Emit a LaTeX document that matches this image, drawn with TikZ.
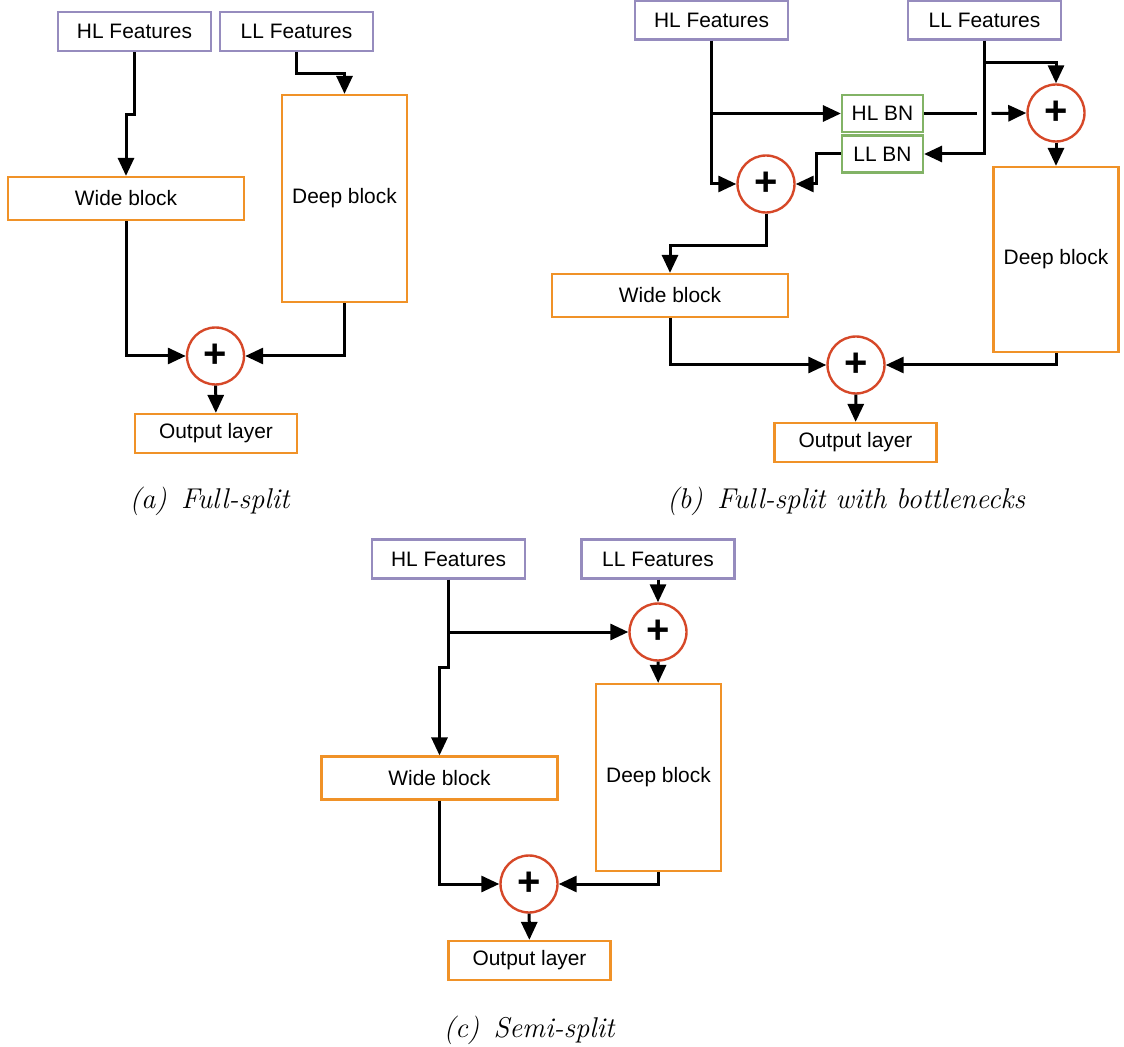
\documentclass[tikz,border=0pt]{standalone}
\usepackage{fontspec}
\newfontfamily\boxfont{Liberation Sans}
\usetikzlibrary{arrows.meta, calc}

\definecolor{featcolor}{RGB}{150,140,190}
\definecolor{blockcolor}{RGB}{240,146,40}
\definecolor{bncolor}{RGB}{130,179,102}
\definecolor{sumcolor}{RGB}{214,72,40}

\begin{document}
\begin{tikzpicture}[
        x = 0.5pt, y = -0.5pt,
        line width = 1.5pt,
        arr/.style = {-{Triangle[width=8pt,length=9pt]}},
        box/.style = {
            draw,
            rectangle,
            inner sep = 0pt,
            line width = 1.1pt,
            fill = white,
            align = center,
            font = \boxfont\fontsize{10.45}{12}\selectfont
        },
        feat/.style = {box, draw = featcolor, minimum width = 76.5pt, minimum height = 19.5pt},
        block/.style = {box, draw = blockcolor},
        widebox/.style = {block, minimum width = 118pt, minimum height = 21.5pt},
        deepbox/.style = {block, minimum width = 62.5pt},
        outbox/.style = {block, minimum width = 81pt, minimum height = 19.5pt},
        bn/.style = {box, draw = bncolor, minimum width = 40.5pt, minimum height = 18.5pt},
        sum/.style = {
            draw = sumcolor,
            circle,
            line width = 1.2pt,
            inner sep = 0pt,
            minimum size = 28.5pt,
            fill = white,
            font = \boxfont\bfseries\fontsize{20}{20}\selectfont
        },
        caption/.style = {anchor = base, font = \fontsize{14.3}{17}\selectfont\itshape}
    ]

        \useasboundingbox (0,0) rectangle (1124,1047);

        \node[feat] (hlA) at (134.5, 31.5) {HL Features};
        \node[feat] (llA) at (296.5, 31.5) {LL Features};
        \node[widebox] (wideA) at (126, 198.5) {Wide block};
        \node[deepbox, minimum height = 103.5pt] (deepA) at (344.5, 198.5) {Deep block};
        \node[sum] (sumA) at (215.5, 356) {\raisebox{-1.2pt}{+}};
        \node[outbox] (outA) at (216, 433.5) {Output layer};
        \node[caption] (capA) at (209.5, 509) {(a)\enspace Full-split};

        \draw[arr] (hlA.south) -- ++(0,62) -| (wideA.north);
        \draw[arr] (llA.south) -- ++(0,21) -| (deepA.north);
        \draw[arr] (wideA.south) |- (sumA.west);
        \draw[arr] (deepA.south) |- (sumA.east);
        \draw[arr] (sumA) -- (outA);

        \node[feat] (hlB) at (711.5, 20) {HL Features};
        \node[feat] (llB) at (984.5, 20) {LL Features};
        \node[bn] (hlbn) at (882.5, 113.5) {HL BN};
        \node[bn] (llbn) at (882.5, 154) {LL BN};
        \node[sum] (sumB1) at (1056, 113) {\raisebox{-1.2pt}{+}};
        \node[sum] (sumB2) at (766, 184) {\raisebox{-1.2pt}{+}};
        \node[widebox] (wideB) at (670, 295.5) {Wide block};
        \node[deepbox, minimum height = 92.5pt] (deepB) at (1056, 259.5) {Deep block};
        \node[sum] (sumB3) at (856, 365) {\raisebox{-1.2pt}{+}};
        \node[outbox] (outB) at (855.5, 442.5) {Output layer};
        \node[caption] (capB) at (846, 509) {(b)\enspace Full-split with bottlenecks};

        \coordinate (hlsplit) at (hlB.south |- hlbn.west);
        \coordinate (llsplit) at ($(llB.south)+(0,22)$);
        \coordinate (hop) at (llB.south |- hlbn.east);

        \draw[arr] (hlB.south) |- (sumB2.west);
        \draw[arr] (hlsplit) -- (hlbn.west);
        \draw (hlbn.east) -- ($(hop)+(-8,0)$);
        \draw[arr] ($(hop)+(7,0)$) -- (sumB1.west);
        \draw[arr] (llB.south) |- (llbn.east);
        \draw[arr] (llsplit) -| (sumB1.north);
        \draw[arr] (llbn.west) -- ++(-24,0) |- (sumB2.east);
        \draw[arr] (sumB2.south) -- ++(0,32) -| (wideB.north);
        \draw[arr] (sumB1) -- (deepB);
        \draw[arr] (wideB.south) |- (sumB3.west);
        \draw[arr] (deepB.south) |- (sumB3.east);
        \draw[arr] (sumB3) -- (outB);

        \node[feat] (hlC) at (448.5, 559) {HL Features};
        \node[feat] (llC) at (658, 559) {LL Features};
        \node[sum] (sumC1) at (658, 632) {\raisebox{-1.2pt}{+}};
        \node[widebox] (wideC) at (439.5, 778) {Wide block};
        \node[deepbox, minimum height = 93.5pt] (deepC) at (658.5, 777.5) {Deep block};
        \node[sum] (sumC2) at (529, 884) {\raisebox{-1.2pt}{+}};
        \node[outbox] (outC) at (529.5, 960.5) {Output layer};
        \node[caption] (capC) at (529, 1037) {(c)\enspace Semi-split};

        \draw[arr] (llC) -- (sumC1);
        \draw[arr] (hlC.south) -- ++(0,88) -| (wideC.north);
        \draw[arr] (hlC.south |- sumC1.west) -- (sumC1.west);
        \draw[arr] (sumC1) -- (deepC);
        \draw[arr] (wideC.south) |- (sumC2.west);
        \draw[arr] (deepC.south) |- (sumC2.east);
        \draw[arr] (sumC2) -- (outC);

    \end{tikzpicture}
\end{document}
